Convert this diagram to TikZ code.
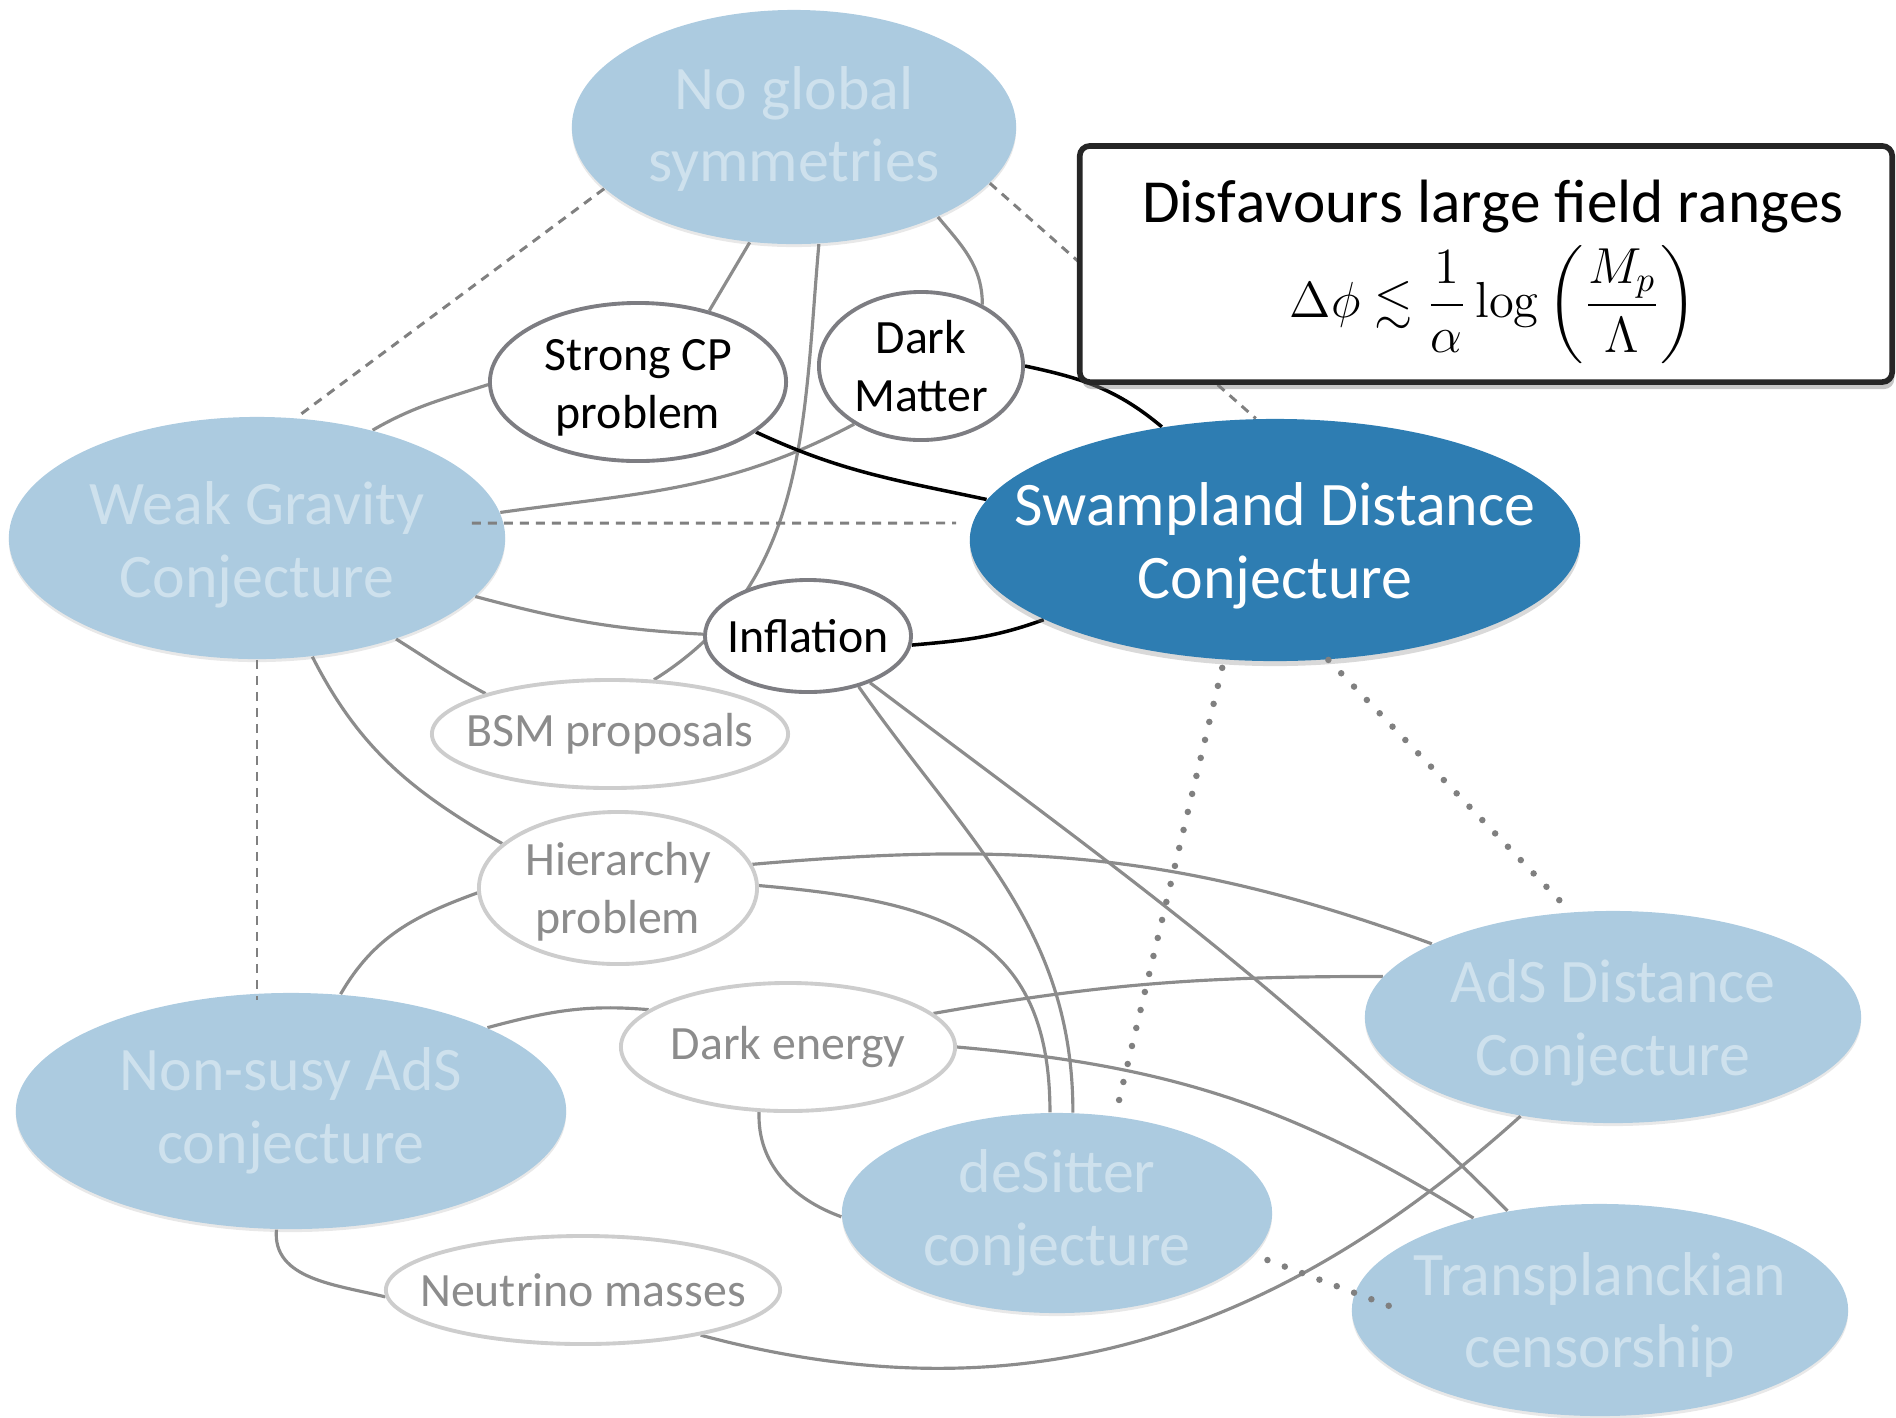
\documentclass[tikz,border=0pt]{standalone}
\usepackage{amsmath,amssymb}
\usepackage[no-math]{fontspec}
\setmainfont{Carlito}
\newfontfamily\headfont[Kerning=Off]{Carlito}
\usetikzlibrary{shapes.geometric,shadows,backgrounds}

\definecolor{paleblue}{RGB}{172,203,224}
\definecolor{paletext}{RGB}{206,225,237}
\definecolor{deepblue}{RGB}{46,125,178}
\definecolor{linkgray}{RGB}{140,140,140}
\definecolor{rimgray}{RGB}{125,125,130}
\definecolor{softrim}{RGB}{205,205,205}
\definecolor{softtext}{RGB}{140,140,140}
\definecolor{dashgray}{RGB}{128,128,128}

\tikzset{
  bigell/.style={ellipse, fill=paleblue, inner sep=0pt,
    drop shadow={shadow xshift=0pt, shadow yshift=-0.03cm, opacity=0.18}},
  keyell/.style={ellipse, fill=deepblue, inner sep=0pt,
    drop shadow={shadow xshift=0pt, shadow yshift=-0.05cm, opacity=0.3}},
  darkell/.style={ellipse, draw=rimgray, line width=1.1pt, fill=white, inner sep=0pt},
  softell/.style={ellipse, draw=softrim, line width=1.1pt, fill=white, inner sep=0pt},
  bigtxt/.style={align=center, inner sep=0pt, text=paletext,
    font=\fontsize{17.6}{20.7}\selectfont},
  keytxt/.style={bigtxt, text=white},
  darktxt/.style={align=center, inner sep=0pt, text=black,
    font=\fontsize{13.6}{16.4}\selectfont},
  softtxt/.style={darktxt, text=softtext},
  link/.style={draw=linkgray, line width=0.9pt},
  strong/.style={draw=black, line width=1pt},
  dashlink/.style={draw=dashgray, line width=0.85pt, dash pattern=on 0.09cm off 0.07cm},
  dotlink/.style={draw=dashgray, line width=0.065cm, line cap=round,
    dash pattern=on 0pt off 0.185cm},
}

\begin{document}
\begin{tikzpicture}[x=0.01cm, y=-0.01cm]
\useasboundingbox (0,0) rectangle (1896,1417);

% conjectures
\node[bigell, minimum width=4.44cm, minimum height=2.34cm] (NG)  at (794,127)  {};
\node[bigell, minimum width=4.96cm, minimum height=2.42cm] (WGC) at (257,538)  {};
\node[keyell, minimum width=6.10cm, minimum height=2.42cm] (SDC) at (1275,540) {};
\node[bigell, minimum width=5.50cm, minimum height=2.36cm] (NSA) at (291,1111) {};
\node[bigell, minimum width=4.30cm, minimum height=2.00cm] (DS)  at (1057,1213) {};
\node[bigell, minimum width=4.96cm, minimum height=2.12cm] (ADC) at (1613,1017) {};
\node[bigell, minimum width=4.96cm, minimum height=2.12cm] (TC)  at (1600,1310) {};

% phenomenology
\node[darkell, minimum width=2.96cm, minimum height=1.58cm] (SCP) at (638,382) {};
\node[darkell, minimum width=2.04cm, minimum height=1.48cm] (DM)  at (921,366) {};
\node[darkell, minimum width=2.06cm, minimum height=1.12cm] (INF) at (808,636) {};
\node[softell, minimum width=3.56cm, minimum height=1.08cm] (BSM) at (610,734) {};
\node[softell, minimum width=2.78cm, minimum height=1.52cm] (HP)  at (618,888) {};
\node[softell, minimum width=3.34cm, minimum height=1.28cm] (DE)  at (788,1047) {};
\node[softell, minimum width=3.94cm, minimum height=1.08cm] (NM)  at (583,1290) {};

% solid links, behind the ellipses
\begin{pgfonlayer}{background}
\draw[link] (NG.-111) -- (SCP.45);
\draw[link] (NG.-78) to[out=-95,in=32] (BSM.51);
\draw[link] (NG.-32) to[out=-50,in=90] (DM.45);
\draw[link] (WGC.43) to[out=30,in=198] (SCP.181);
\draw[link] (WGC.6) to[out=8,in=-152] (DM.-139);
\draw[link] (WGC.-15) to[out=-15,in=177] (INF.179);
\draw[link] (WGC.-36) to[out=-32,in=152] (BSM.162);
\draw[link] (WGC.-65) to[out=-63,in=150] (HP.159);
\draw[link] (HP.182) to[out=200,in=60] (NSA.67);
\draw[link] (HP.10) to[out=5,in=160] (ADC.158);
\draw[link] (HP.1) to[out=-5,in=90,looseness=1.25] (DS.94);
\draw[link] (INF.-45) to[out=-55,in=90] (DS.81);
\draw[link] (INF.-37) to[out=-37,in=135] (TC.133);
\draw[link] (NSA.23) to[out=15,in=175] (DE.165);
\draw[link] (DE.13) to[out=10,in=180] (ADC.170);
\draw[link] (DE.0) to[out=-5,in=148] (TC.144);
\draw[link] (DE.-114) to[out=-92,in=160] (DS.181);
\draw[link] (NSA.-97) to[out=-95,in=166] (NM.182);
\draw[link] (NM.-21) to[out=-15,in=-138] (ADC.-133);
\draw[strong] (SCP.-23) to[out=-25,in=168] (SDC.172);
\draw[strong] (DM.0) to[out=-12,in=140] (SDC.135);
\draw[strong] (INF.-5) to[out=5,in=-160] (SDC.-161);
\end{pgfonlayer}

% dashed and dotted relations
\draw[dashlink] (NG.-162) -- (WGC.72);
\draw[dashlink] (NG.-16) -- (SDC.99);
\draw[dashlink] ([xshift=-0.34cm,yshift=0.15cm]WGC.east) -- ([xshift=-0.13cm,yshift=0.17cm]SDC.west);
\draw[dashlink] (WGC.south) -- ([yshift=-0.08cm]WGC.south |- NSA.north);
\draw[dotlink, shorten <=0.08cm, shorten >=0.08cm] (SDC.-113) -- (DS.59);
\draw[dotlink, shorten >=0.1cm] (SDC.-66) -- (ADC.112);
\draw[dotlink, shorten <=0.15cm, shorten >=-0.37cm] (DS.-12) -- (TC.176);

% labels
\node[bigtxt] (NGt)  at ([yshift=-0.02cm]NG)  {No global\\symmetries};
\node[bigtxt] (WGCt) at ([yshift=-0.07cm]WGC) {Weak Gravity\\Conjecture};
\node[keytxt] (SDCt) at ([yshift=-0.06cm]SDC) {Swampland Distance\\Conjecture};
\node[bigtxt] (NSAt) at (NSA) {Non-susy AdS\\conjecture};
\node[bigtxt] (DSt)  at (DS)  {deSitter\\conjecture};
\node[bigtxt] (ADCt) at ([yshift=-0.06cm]ADC) {AdS Distance\\Conjecture};
\node[bigtxt] (TCt)  at ([yshift=-0.05cm]TC)  {Transplanckian\\censorship};
\node[darktxt] (SCPt) at ([yshift=-0.06cm]SCP) {Strong CP\\problem};
\node[darktxt] (DMt)  at (DM)  {Dark\\Matter};
\node[darktxt] (INFt) at (INF) {Inflation};
\node[softtxt] (BSMt) at (BSM) {BSM proposals};
\node[softtxt] (HPt)  at ([yshift=-0.04cm]HP)  {Hierarchy\\problem};
\node[softtxt] (DEt)  at (DE)  {Dark energy};
\node[softtxt] (NMt)  at (NM)  {Neutrino masses};

% callout box
\node[draw=black!85, line width=1.6pt, rounded corners=0.1cm, fill=white,
      minimum width=8.12cm, minimum height=2.36cm, inner sep=0pt,
      drop shadow={shadow xshift=0.02cm, shadow yshift=-0.07cm, opacity=0.45}]
      (BOX) at (1486,264) {};
\node[anchor=base, inner sep=0pt, font=\headfont\fontsize{17.4}{20}\selectfont] (HEAD) at (1493,222)
      {Disfavours large field ranges};
\node[inner sep=0pt, font=\fontsize{14}{17}\selectfont] (FORM) at (1493,305)
      {$\displaystyle \Delta\phi \lesssim \frac{1}{\alpha}\log\left(\frac{M_p}{\Lambda}\right)$};
\end{tikzpicture}
\end{document}
